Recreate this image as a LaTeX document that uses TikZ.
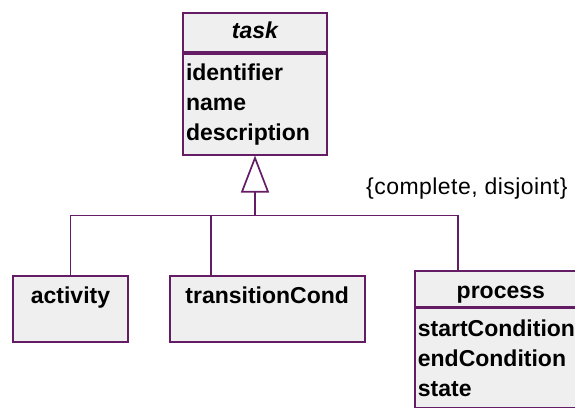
\documentclass[tikz,border=0pt]{standalone}
\usepackage{fontspec}
\setmainfont{Liberation Sans}
\usetikzlibrary{arrows.meta,positioning}
\definecolor{umlpurple}{RGB}{100,28,100}
\definecolor{umlgray}{RGB}{239,239,239}

\begin{document}
\begin{tikzpicture}[
		x=1pt, y=1pt,
		classbox/.style={rectangle, draw=umlpurple, fill=umlgray, line width=1.7pt, inner sep=0pt,
			font=\fontsize{23}{30}\selectfont\bfseries},
		attrbox/.style={classbox, align=left, inner xsep=3pt},
		umlline/.style={draw=umlpurple, line width=1.7pt},
		gen/.style={umlline, -{Triangle[open, length=37pt, width=28pt]}}
	]
  \useasboundingbox (0,0) rectangle (575,407);
  \clip (0,0) rectangle (575,407);
  % superclass
  \node (task_h) [classbox, minimum width=144pt, minimum height=39pt, text height=17pt, text depth=4pt,
    font=\fontsize{23}{30}\selectfont\bfseries\itshape] at (255,374.5) {task};
  \node (task_b) [attrbox, below=0pt of task_h, minimum width=144pt, minimum height=101pt, text width=138pt]
    {identifier\\name\\description};
  % subclasses
  \node (act) [classbox, minimum width=115pt, minimum height=66pt, text height=20pt, text depth=30pt,
    anchor=north] at (70.5,132) {activity};
  \node (tc) [classbox, right=40pt of act, minimum width=195pt, minimum height=66pt, text height=20pt,
    text depth=30pt] {transitionCond};
  \node (proc_h) [classbox, minimum width=172pt, minimum height=36pt, text height=20pt, text depth=0pt,
    anchor=north west] at (414,137) {process};
  \node (proc_b) [attrbox, below=0pt of proc_h, anchor=north, text width=166pt, inner ysep=11pt]
    {startCondition\\endCondition\\state};
  \node (constraint) [anchor=west, inner sep=0pt,
    font=\fontsize{23}{25}\selectfont\addfontfeatures{LetterSpace=2}] at (366,218) {\{complete, disjoint\}};
  % generalisation tree
  \coordinate (split) at ([yshift=-60pt]task_b.south);
  \coordinate (tc_in) at ([xshift=42pt]tc.north west);
  \coordinate (proc_in) at ([xshift=44pt]proc_h.north west);
  \draw[umlline] (act.north) |- (split);
  \draw[umlline] (tc_in) |- (split);
  \draw[umlline] (proc_in) |- (split);
  \draw[gen] (split) -- (task_b.south);
\end{tikzpicture}
\end{document}
